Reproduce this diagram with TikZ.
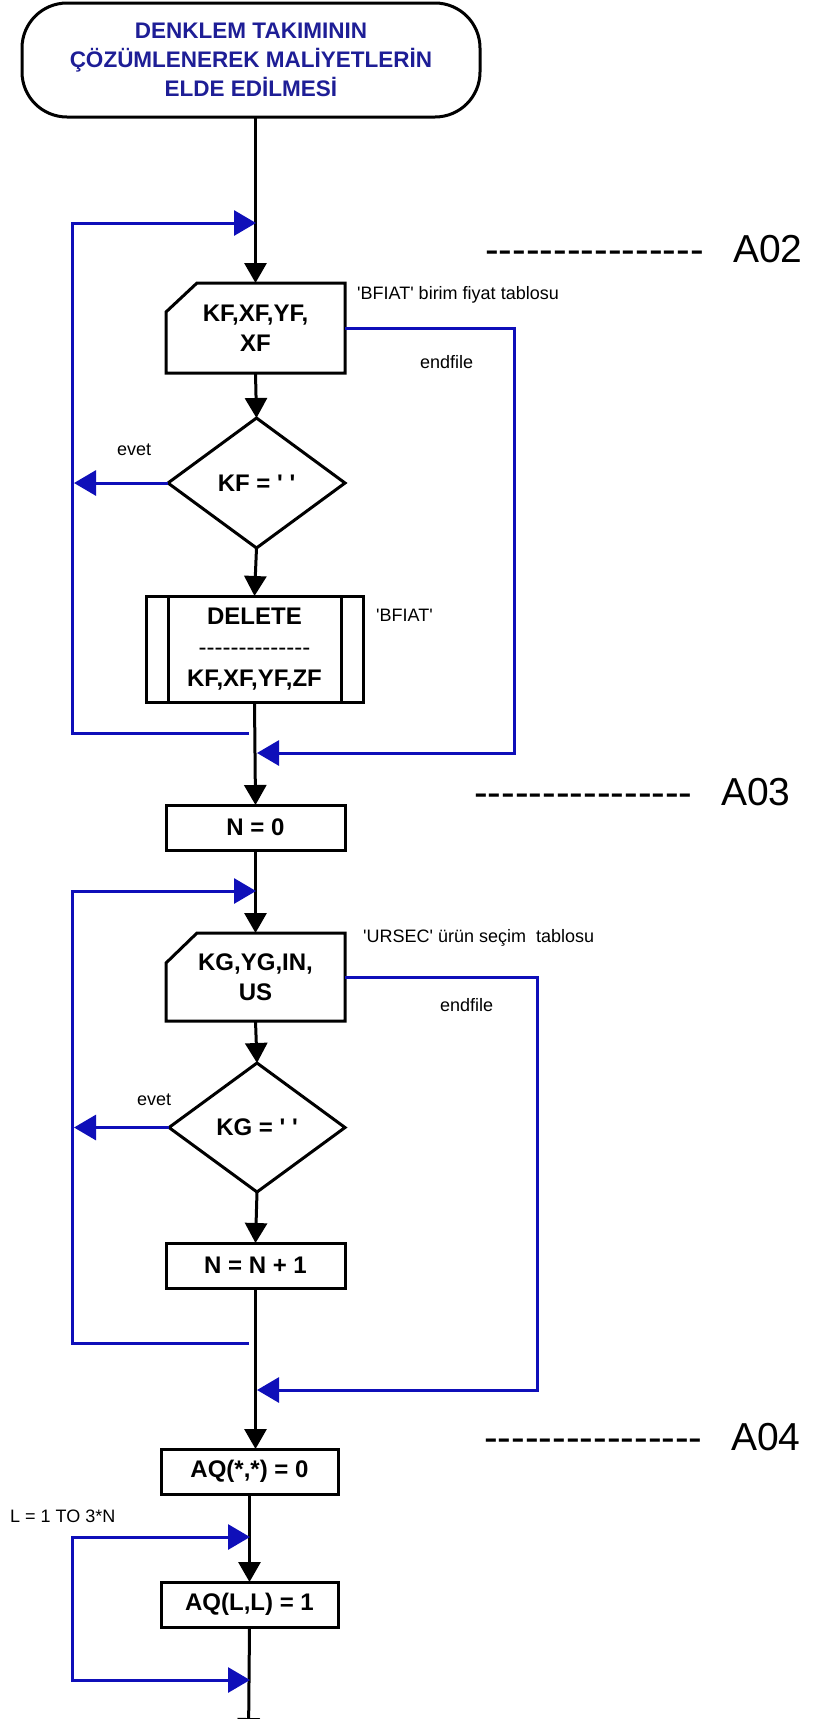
\documentclass[tikz,border=0pt]{standalone}
\usepackage{fontspec}
\newfontfamily\lsans{Liberation Sans}
\usetikzlibrary{arrows.meta,calc}
\definecolor{lnblue}{RGB}{15,15,185}
\definecolor{txblue}{RGB}{30,30,150}
\newcommand\hy{-\kern0pt}
\begin{document}
\begin{tikzpicture}[x=1pt,y=-1pt,
  shp/.style={inner sep=0pt, outer sep=0pt},
  boxtxt/.style={font=\lsans\fontsize{24}{30}\selectfont\bfseries, align=center},
  proc/.style={shp, boxtxt, draw, line width=3pt, minimum width=179pt, minimum height=45pt},
  blk/.style={line width=3pt, -{Triangle[length=20pt,width=22pt]}},
  blu/.style={line width=3pt, draw=lnblue, -{Triangle[length=22pt,width=25pt]}},
  lbl/.style={font=\lsans\fontsize{18}{22}\selectfont, anchor=west, inner sep=0pt},
  dsh/.style={font=\lsans\fontsize{41}{45}\selectfont, anchor=base west, inner sep=0pt},
  alab/.style={font=\lsans\fontsize{39}{42}\selectfont, anchor=base west, inner sep=0pt}]
\useasboundingbox (0,0) rectangle (813,1719);
\fill[white] (0,0) rectangle (813,1719);
\clip (0,0) rectangle (813,1719);

% terminal
\node[shp, draw, line width=3pt, rounded corners=45pt, minimum width=458pt, minimum height=114pt,
  font=\lsans\fontsize{22.5}{29}\selectfont\bfseries, text=txblue, align=center]
  (start) at (251,60) {DENKLEM TAKIMININ\\ÇÖZÜMLENEREK MALİYETLERİN\\ELDE EDİLMESİ};

% input 1
\node[shp, boxtxt, minimum width=179pt, minimum height=90pt] (in1) at (255.5,328) {KF,XF,YF,\\XF};
\draw[line width=3pt] ([xshift=31pt]in1.north west) -- (in1.north east) -- (in1.south east)
  -- (in1.south west) -- ([yshift=-29pt]in1.north west) -- cycle;

% decision 1
\node[shp, boxtxt, minimum width=177pt, minimum height=130pt] (d1) at (256.5,483) {KF = ' '};
\draw[line width=3pt] (d1.north) -- (d1.east) -- (d1.south) -- (d1.west) -- cycle;

% delete box
\node[proc, minimum width=217pt, minimum height=106pt, font=\lsans\fontsize{24}{31}\selectfont\bfseries]
  (del) at (254.5,649) {DELETE\\{\mdseries\hy\hy\hy\hy\hy\hy\hy\hy\hy\hy\hy\hy\hy\hy}\\KF,XF,YF,ZF};
\draw[line width=3pt] ([xshift=22pt]del.north west) -- ([xshift=22pt]del.south west);
\draw[line width=3pt] ([xshift=-22pt]del.north east) -- ([xshift=-22pt]del.south east);

% N = 0
\node[proc] (n0) at (255.5,827.5) {N = 0};

% input 2
\node[shp, boxtxt, minimum width=179pt, minimum height=88pt] (in2) at (255.5,977) {KG,YG,IN,\\US};
\draw[line width=3pt] ([xshift=31pt]in2.north west) -- (in2.north east) -- (in2.south east)
  -- (in2.south west) -- ([yshift=-30pt]in2.north west) -- cycle;

% decision 2
\node[shp, boxtxt, minimum width=176pt, minimum height=129pt] (d2) at (257,1127.5) {KG = ' '};
\draw[line width=3pt] (d2.north) -- (d2.east) -- (d2.south) -- (d2.west) -- cycle;

% N = N + 1
\node[proc] (n1) at (255.5,1265.5) {N = N + 1};

% AQ boxes
\node[proc, minimum width=177pt] (aq0) at (249.5,1471.5) {AQ(*,*) = 0};
\node[proc, minimum width=177pt] (aql) at (249.5,1604.5) {AQ(L,L) = 1};

% black flow
\draw[blk] (in1.north |- start.south) -- (in1.north);
\draw[blk] (in1.south) -- (d1.north);
\draw[blk] (d1.south) -- (del.north);
\draw[blk] (del.south) -- (n0.north);
\draw[blk] (n0.south) -- (in2.north);
\draw[blk] (in2.south) -- (d2.north);
\draw[blk] (d2.south) -- (n1.north);
\draw[blk] (n1.south) -- (n1.south |- aq0.north);
\draw[blk] (aq0.south) -- (aql.north);
\coordinate (botend) at (248.5,1738);
\draw[blk] (aql.south) -- (botend);

% blue loops
\coordinate (l1t) at (256,223);
\coordinate (l1b) at (249,733);
\draw[blu] (l1b) -- (72,733) -- (72,223) -- (l1t);
\coordinate (ev1) at (74,483);
\draw[blu] (d1.west) -- (ev1);
\coordinate (e1) at (257,753);
\draw[blu] (in1.east) -- (514,328) -- (514,753) -- (e1);

\coordinate (l2t) at (256,891);
\coordinate (l2b) at (249,1343);
\draw[blu] (l2b) -- (72,1343) -- (72,891) -- (l2t);
\coordinate (ev2) at (74,1127.5);
\draw[blu] (d2.west) -- (ev2);
\coordinate (e2) at (257,1390);
\draw[blu] (in2.east) -- (537,977) -- (537,1390) -- (e2);

\coordinate (l3t) at (250,1537);
\coordinate (l3b) at (250,1680);
\draw[line width=3pt, draw=lnblue, {Triangle[length=22pt,width=25pt]}-{Triangle[length=22pt,width=25pt]}]
  (l3t) -- (72,1537) -- (72,1680) -- (l3b);

% labels
\node[lbl] (lb1) at (357,295) {'BFIAT' birim fiyat tablosu};
\node[lbl] (lb2) at (420,362) {endfile};
\node[lbl] (lb3) at (117,450) {evet};
\node[lbl] (lb4) at (376,615) {'BFIAT'};
\node[lbl] (lb5) at (363,938) {'URSEC' ürün seçim\ \ tablosu};
\node[lbl] (lb6) at (440,1005) {endfile};
\node[lbl] (lb7) at (137,1100) {evet};
\node[lbl] (lb8) at (10,1516) {L = 1 TO 3*N};

% section marks
\node[dsh] (s1) at (485,263) {----------------};
\node[alab] (a1) at (733,262) {A02};
\node[dsh] (s2) at (474,806) {----------------};
\node[alab] (a2) at (721,805) {A03};
\node[dsh] (s3) at (484,1451) {----------------};
\node[alab] (a3) at (731,1450) {A04};
\end{tikzpicture}
\end{document}
